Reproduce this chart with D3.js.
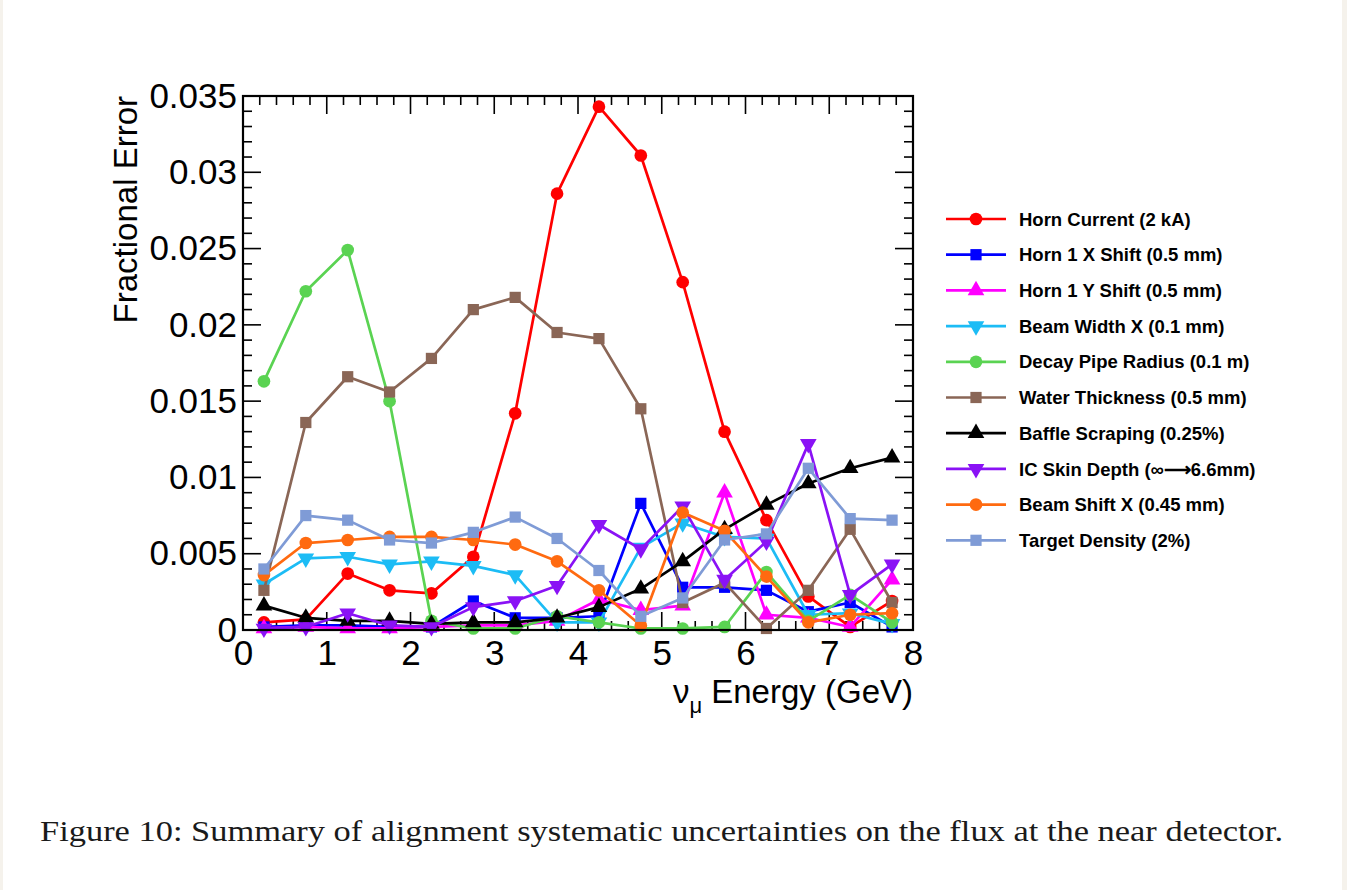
<!DOCTYPE html>
<html>
<head>
<meta charset="utf-8">
<script src="https://cdn.jsdelivr.net/npm/d3@7"></script>
<style>
  html, body { margin: 0; padding: 0; background: #ffffff; }
  svg { display: block; }
</style>
</head>
<body>
<svg id="chart" width="1347" height="890"></svg>
<script>
// Bin centres of the neutrino energy histogram (GeV)
const energyBins = [0.25, 0.75, 1.25, 1.75, 2.25, 2.75, 3.25, 3.75, 4.25, 4.75, 5.25, 5.75, 6.25, 6.75, 7.25, 7.75];

// Fractional flux error per bin for each alignment systematic
const hornCurrent     = [0.0005, 0.0007, 0.0037, 0.0026, 0.0024, 0.0048, 0.0142, 0.0286, 0.0343, 0.0311, 0.0228, 0.0130, 0.0072, 0.0022, 0.0002, 0.0019];
const horn1XShift     = [0.0002, 0.0003, 0.0003, 0.0002, 0.0002, 0.0019, 0.0008, 0.0008, 0.0009, 0.0083, 0.0028, 0.0028, 0.0026, 0.0012, 0.0018, 0.0002];
const horn1YShift     = [0.0001, 0.0002, 0.0001, 0.0001, 0.0002, 0.0003, 0.0003, 0.0006, 0.0020, 0.0013, 0.0016, 0.0090, 0.0010, 0.0008, 0.0002, 0.0033];
const beamWidthX      = [0.0030, 0.0047, 0.0048, 0.0043, 0.0045, 0.0042, 0.0036, 0.0005, 0.0005, 0.0054, 0.0070, 0.0061, 0.0060, 0.0010, 0.0011, 0.0004];
const decayPipeRadius = [0.0163, 0.0222, 0.0249, 0.0150, 0.0006, 0.0001, 0.0001, 0.0009, 0.0005, 0.0001, 0.0001, 0.0002, 0.0038, 0.0006, 0.0023, 0.0005];
const waterThickness  = [0.0026, 0.0136, 0.0166, 0.0156, 0.0178, 0.0210, 0.0218, 0.0195, 0.0191, 0.0145, 0.0018, 0.0031, 0.0001, 0.0026, 0.0066, 0.0018];
const baffleScraping  = [0.0016, 0.0008, 0.0006, 0.0006, 0.0004, 0.0005, 0.0005, 0.0008, 0.0015, 0.0027, 0.0045, 0.0066, 0.0082, 0.0096, 0.0106, 0.0113];
const icSkinDepth     = [0.0001, 0.0002, 0.0011, 0.0003, 0.0002, 0.0015, 0.0019, 0.0029, 0.0069, 0.0053, 0.0081, 0.0033, 0.0058, 0.0122, 0.0023, 0.0043];
const beamShiftX      = [0.0036, 0.0057, 0.0059, 0.0061, 0.0061, 0.0059, 0.0056, 0.0045, 0.0026, 0.0003, 0.0077, 0.0065, 0.0035, 0.0005, 0.0010, 0.0011];
const targetDensity   = [0.0040, 0.0075, 0.0072, 0.0059, 0.0057, 0.0064, 0.0074, 0.0060, 0.0039, 0.0009, 0.0021, 0.0059, 0.0063, 0.0106, 0.0073, 0.0072];

const seriesNames = [
  "Horn Current (2 kA)", "Horn 1 X Shift (0.5 mm)", "Horn 1 Y Shift (0.5 mm)",
  "Beam Width X (0.1 mm)", "Decay Pipe Radius (0.1 m)", "Water Thickness (0.5 mm)",
  "Baffle Scraping (0.25%)", "IC Skin Depth (\u221E\u27F66.6mm)", "Beam Shift X (0.45 mm)",
  "Target Density (2%)"
];
const seriesValues = [hornCurrent, horn1XShift, horn1YShift, beamWidthX, decayPipeRadius,
  waterThickness, baffleScraping, icSkinDepth, beamShiftX, targetDensity];
const seriesColors = ["#ff0000", "#0000ff", "#ff00ff", "#1cbcf5", "#5ad352", "#8a6656",
  "#000000", "#8a12f5", "#ff6a10", "#7f9bd6"];
const seriesMarkers = ["circle", "square", "triangleUp", "triangleDown", "circle", "square",
  "triangleUp", "triangleDown", "circle", "square"];

const yTicks = [0, 0.005, 0.01, 0.015, 0.02, 0.025, 0.03, 0.035];
const yTickLabels = ["0", "0.005", "0.01", "0.015", "0.02", "0.025", "0.03", "0.035"];
const xTicks = [0, 1, 2, 3, 4, 5, 6, 7, 8];

const caption = "Figure 10:  Summary of alignment systematic uncertainties on the flux at the near detector.";

const svg = d3.select("#chart");
const sans = "'Liberation Sans', Arial, Helvetica, sans-serif";

// Faint page edges
svg.append("rect").attr("x", 0).attr("y", 0).attr("width", 1347).attr("height", 890).attr("fill", "#f5f2ec");
svg.append("rect").attr("x", 3).attr("y", 0).attr("width", 1339).attr("height", 890).attr("fill", "#ffffff");

const frame = { left: 243, right: 913, top: 96, bottom: 630 };
const x = d3.scaleLinear().domain([0, 8]).range([frame.left, frame.right]);
const y = d3.scaleLinear().domain([0, 0.035]).range([frame.bottom, frame.top]);

// Tick marks on all four sides, pointing inwards
const ticks = svg.append("g").attr("stroke", "#000").attr("stroke-width", 1.6);
d3.range(0, 0.03501, 0.001).forEach((v, i) => {
  const len = (i % 5 === 0) ? 18 : 9;
  const yy = y(v);
  ticks.append("line").attr("x1", frame.left).attr("x2", frame.left + len).attr("y1", yy).attr("y2", yy);
  ticks.append("line").attr("x1", frame.right).attr("x2", frame.right - len).attr("y1", yy).attr("y2", yy);
});
d3.range(0, 8.001, 0.2).forEach((v, i) => {
  const len = (i % 5 === 0) ? 18 : 9;
  const xx = x(v);
  ticks.append("line").attr("x1", xx).attr("x2", xx).attr("y1", frame.bottom).attr("y2", frame.bottom - len);
  ticks.append("line").attr("x1", xx).attr("x2", xx).attr("y1", frame.top).attr("y2", frame.top + len);
});

// Axes (labels only, frame drawn separately)
const yAxis = d3.axisLeft(y).tickValues(yTicks).tickSize(0).tickPadding(6)
  .tickFormat((d, i) => yTickLabels[i]);
const gy = svg.append("g").attr("transform", `translate(${frame.left},0)`).call(yAxis);
gy.select(".domain").remove();
gy.selectAll("text").attr("font-family", sans).attr("font-size", 35).attr("fill", "#000");

const xAxis = d3.axisBottom(x).tickValues(xTicks).tickSize(0).tickPadding(10).tickFormat(d3.format("d"));
const gx = svg.append("g").attr("transform", `translate(0,${frame.bottom})`).call(xAxis);
gx.select(".domain").remove();
gx.selectAll("text").attr("font-family", sans).attr("font-size", 35).attr("fill", "#000");

// Series lines and markers
const symbolFor = (kind, size) => {
  if (kind === "circle") return d3.symbol(d3.symbolCircle, size * 1.05)();
  if (kind === "square") return d3.symbol(d3.symbolSquare, size * 1.05)();
  return d3.symbol(d3.symbolTriangle, size)();
};
const plot = svg.append("g");
const line = d3.line().x((d, i) => x(energyBins[i])).y(d => y(d));
seriesValues.forEach((vals, s) => {
  const g = plot.append("g");
  g.append("path").datum(vals).attr("d", line).attr("fill", "none")
    .attr("stroke", seriesColors[s]).attr("stroke-width", 2.7).attr("stroke-linejoin", "round");
  g.selectAll("path.mk").data(vals).join("path").attr("class", "mk")
    .attr("d", symbolFor(seriesMarkers[s], 120))
    .attr("transform", (d, i) => `translate(${x(energyBins[i])},${y(d)})` + (seriesMarkers[s] === "triangleDown" ? " rotate(180)" : ""))
    .attr("fill", seriesColors[s]);
});

// Frame
svg.append("rect").attr("x", frame.left).attr("y", frame.top)
  .attr("width", frame.right - frame.left).attr("height", frame.bottom - frame.top)
  .attr("fill", "none").attr("stroke", "#000").attr("stroke-width", 2.2);

// Axis titles
svg.append("text").attr("transform", `translate(137,${frame.top}) rotate(-90)`)
  .attr("text-anchor", "end").attr("font-family", sans).attr("font-size", 33).attr("fill", "#000")
  .text("Fractional Error");
const xt = svg.append("text").attr("x", frame.right).attr("y", 703).attr("text-anchor", "end")
  .attr("font-family", sans).attr("font-size", 33).attr("fill", "#000");
xt.append("tspan").text("\u03BD");
xt.append("tspan").attr("dy", 10).attr("font-size", 22).text("\u03BC");
xt.append("tspan").attr("dy", -10).text(" Energy (GeV)");

// Legend
const legend = svg.append("g");
seriesNames.forEach((name, s) => {
  const ly = 219 + s * 35.7;
  const row = legend.append("g");
  row.append("line").attr("x1", 946).attr("x2", 1006).attr("y1", ly).attr("y2", ly)
    .attr("stroke", seriesColors[s]).attr("stroke-width", 2.7);
  row.append("path").attr("d", symbolFor(seriesMarkers[s], 120))
    .attr("transform", `translate(976,${ly})` + (seriesMarkers[s] === "triangleDown" ? " rotate(180)" : ""))
    .attr("fill", seriesColors[s]);
  row.append("text").attr("x", 1019).attr("y", ly).attr("dy", "0.36em")
    .attr("font-family", sans).attr("font-weight", "bold").attr("font-size", 18.5).attr("fill", "#000")
    .text(name);
});

// Caption
svg.append("text").attr("x", 40).attr("y", 841)
  .attr("font-family", "'Liberation Serif', 'DejaVu Serif', serif").attr("font-size", 29).attr("fill", "#1a1a1a")
  .attr("textLength", 1243).attr("lengthAdjust", "spacingAndGlyphs")
  .text(caption);
</script>
</body>
</html>
